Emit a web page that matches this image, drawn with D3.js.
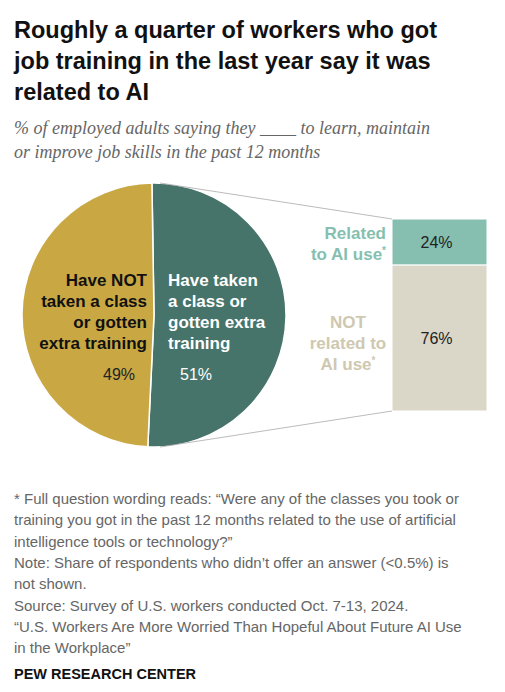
<!DOCTYPE html><html><head><meta charset="utf-8">
<script src="https://cdn.jsdelivr.net/npm/d3@7"></script>
<style>body{margin:0;background:#fff}text{font-family:"Liberation Sans",Arial,sans-serif}</style></head><body>
<svg id="c" width="505" height="692"></svg>
<script>
const pieCategories=["Have taken a class or gotten extra training","Have NOT taken a class or gotten extra training"];
const pieValues=[51,49];
const barCategories=["Related to AI use","NOT related to AI use"];
const barValues=[24,76];
const titleLines=["Roughly a quarter of workers who got","job training in the last year say it was","related to AI"];
const subLines=["% of employed adults saying they ____ to learn, maintain","or improve job skills in the past 12 months"];
const notes=["* Full question wording reads: \u201cWere any of the classes you took or","training you got in the past 12 months related to the use of artificial","intelligence tools or technology?\u201d","Note: Share of respondents who didn\u2019t offer an answer (<0.5%) is","not shown.","Source: Survey of U.S. workers conducted Oct. 7-13, 2024.","\u201cU.S. Workers Are More Worried Than Hopeful About Future AI Use","in the Workplace\u201d"];
const svg=d3.select("#c");
svg.selectAll(".t").data(titleLines).join("text").attr("x",14).attr("y",(d,i)=>38+i*31)
 .attr("font-size",23.5).attr("font-weight","bold").attr("fill","#111").text(d=>d);
svg.selectAll(".s").data(subLines).join("text").attr("x",14).attr("y",(d,i)=>134+i*24)
 .attr("font-size",18).attr("font-style","italic").attr("fill","#666").style("font-family","Liberation Serif,serif").text(d=>d);
const cx=154,cy=315,R=132;
const pie=d3.pie().sort(null).value(d=>d).startAngle(-0.005*Math.PI).endAngle(1.995*Math.PI);
const arcs=pie(pieValues);
const arc=d3.arc().innerRadius(0).outerRadius(R);
const g=svg.append("g").attr("transform",`translate(${cx},${cy})`);
g.selectAll("path").data(arcs).join("path").attr("d",arc).attr("fill",(d,i)=>["#46736A","#C9A844"][i]).attr("stroke","#fff").attr("stroke-width",1.5);
const bx=392,bw=95,by0=219,by1=411;
const y=d3.scaleLinear().domain([0,100]).range([by0,by1]);
let acc=0;const segs=barValues.map(v=>{const s={a:acc,b:acc+v,v};acc+=v;return s;});
svg.selectAll(".bar").data(segs).join("rect").attr("x",bx).attr("y",d=>y(d.a)).attr("width",bw)
 .attr("height",d=>y(d.b)-y(d.a)).attr("fill",(d,i)=>["#86BFB0","#DAD7C8"][i]).attr("stroke","#fff").attr("stroke-width",1);
svg.selectAll(".bv").data(segs).join("text").attr("x",bx+bw/2-3).attr("y",d=>(y(d.a)+y(d.b))/2+6)
 .attr("text-anchor","middle").attr("font-size",16).attr("fill","#222").text(d=>d.v+"%");
svg.append("line").attr("x1",cx+6).attr("y1",cy-R).attr("x2",bx).attr("y2",by0).attr("stroke","#aaa").attr("stroke-width",0.8);
svg.append("line").attr("x1",cx+6).attr("y1",cy+R).attr("x2",bx).attr("y2",by1).attr("stroke","#aaa").attr("stroke-width",0.8);
function lab(lines,x,y0,anchor,color,size,weight,lh){
 const t=svg.append("text").attr("x",x).attr("y",y0).attr("text-anchor",anchor).attr("fill",color).attr("font-size",size).attr("font-weight",weight);
 lines.forEach((l,i)=>{const ts=t.append("tspan").attr("x",x).attr("y",y0+i*lh);
  if(l.endsWith("*")){ts.text(l.slice(0,-1));ts.append("tspan").attr("font-size",10).attr("dy",-6).text("*");}else ts.text(l);});
}
lab(["Related","to AI use*"],386,239,"end","#86BFB0",17,"bold",21);
lab(["NOT","related to","AI use*"],348,328,"middle","#CFC8B0",17,"bold",21);
lab(["Have NOT","taken a class","or gotten","extra training"],147,286,"end","#111",17,"bold",21);
lab(["Have taken","a class or","gotten extra","training"],168,286,"start","#fff",17,"bold",21);
svg.append("text").attr("x",119).attr("y",380).attr("text-anchor","middle").attr("font-size",16).attr("fill","#222").text(pieValues[1]+"%");
svg.append("text").attr("x",196).attr("y",380).attr("text-anchor","middle").attr("font-size",16).attr("fill","#fff").text(pieValues[0]+"%");
svg.selectAll(".n").data(notes).join("text").attr("x",14).attr("y",(d,i)=>504+i*21.3)
 .attr("font-size",15).attr("fill","#666").text(d=>d);
svg.append("text").attr("x",14).attr("y",679).attr("font-size",14.5).attr("font-weight","bold").attr("fill","#111").text("PEW RESEARCH CENTER");
</script></body></html>
